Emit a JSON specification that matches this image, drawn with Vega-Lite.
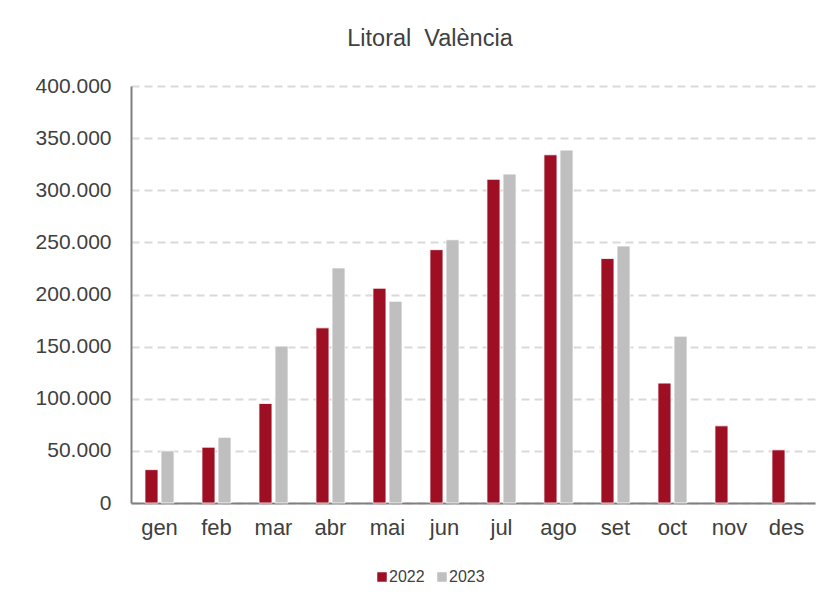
{
  "$schema": "https://vega.github.io/schema/vega-lite/v6.json",
  "width": 684,
  "height": 417,
  "autosize": {"type": "none"},
  "padding": {"left": 131, "top": 86, "right": 15, "bottom": 105},
  "background": "white",
  "title": {"text": "Litoral\u00a0 València", "fontSize": 23.5, "font": "Liberation Sans", "fontWeight": "normal", "color": "#404040", "anchor": "middle", "dx": -43, "offset": 25},
  "config": {
    "locale": {"number": {"decimal": ",", "thousands": ".", "grouping": [3], "currency": ["", " €"]}},
    "view": {"stroke": null},
    "font": "Liberation Sans"
  },
  "data": {"values": [
    {"mes": "gen", "any": "2022", "valor": 32000},
    {"mes": "gen", "any": "2023", "valor": 50000},
    {"mes": "feb", "any": "2022", "valor": 53500},
    {"mes": "feb", "any": "2023", "valor": 63000},
    {"mes": "mar", "any": "2022", "valor": 95500},
    {"mes": "mar", "any": "2023", "valor": 150500},
    {"mes": "abr", "any": "2022", "valor": 168000},
    {"mes": "abr", "any": "2023", "valor": 225500},
    {"mes": "mai", "any": "2022", "valor": 206000},
    {"mes": "mai", "any": "2023", "valor": 193500},
    {"mes": "jun", "any": "2022", "valor": 243000},
    {"mes": "jun", "any": "2023", "valor": 252500},
    {"mes": "jul", "any": "2022", "valor": 310500},
    {"mes": "jul", "any": "2023", "valor": 315500},
    {"mes": "ago", "any": "2022", "valor": 334000},
    {"mes": "ago", "any": "2023", "valor": 338500},
    {"mes": "set", "any": "2022", "valor": 234500},
    {"mes": "set", "any": "2023", "valor": 246500},
    {"mes": "oct", "any": "2022", "valor": 115000},
    {"mes": "oct", "any": "2023", "valor": 160000},
    {"mes": "nov", "any": "2022", "valor": 74000},
    {"mes": "des", "any": "2022", "valor": 51000}
  ]},
  "mark": {"type": "bar", "stroke": "white", "strokeWidth": 0.8},
  "encoding": {
    "x": {
      "field": "mes", "type": "nominal",
      "sort": ["gen","feb","mar","abr","mai","jun","jul","ago","set","oct","nov","des"],
      "scale": {"paddingInner": 0.49, "paddingOuter": 0.245},
      "axis": {"title": null, "labelAngle": 0, "labelFontSize": 22, "labelColor": "#404040", "labelPadding": 14, "ticks": false, "domainColor": "#808080", "domainWidth": 2, "grid": false}
    },
    "xOffset": {"field": "any", "type": "nominal", "scale": {"paddingInner": 0.19, "paddingOuter": 0}},
    "y": {
      "field": "valor", "type": "quantitative",
      "scale": {"domain": [0, 400000]},
      "axis": {"title": null, "format": ",d", "values": [0,50000,100000,150000,200000,250000,300000,350000,400000], "labelFontSize": 21, "labelColor": "#404040", "labelPadding": 20, "ticks": false, "domainColor": "#808080", "domainWidth": 2, "gridColor": "#D9D9D9", "gridWidth": 2, "gridDash": [8, 5]}
    },
    "color": {
      "field": "any", "type": "nominal",
      "scale": {"domain": ["2022", "2023"], "range": ["#9E0F24", "#BFBFBF"]},
      "legend": {"title": null, "orient": "none", "direction": "horizontal", "legendX": 243, "legendY": 483, "symbolType": "square", "symbolSize": 90, "symbolStrokeWidth": 0, "labelFontSize": 16, "labelColor": "#404040", "columnPadding": 9, "labelOffset": -1}
    }
  }
}
